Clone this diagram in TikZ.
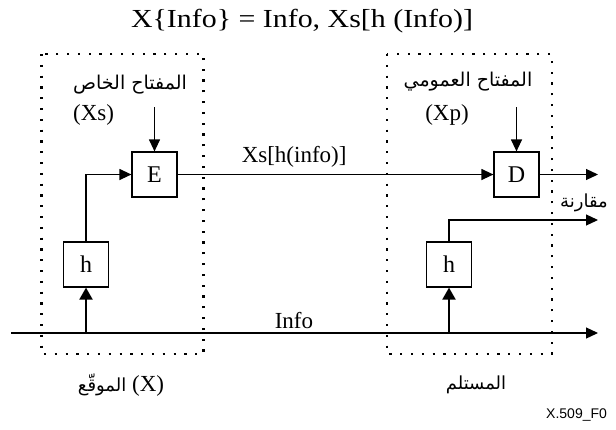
\documentclass[tikz,border=0pt]{standalone}
\usepackage{fontspec}
\setmainfont{Liberation Serif}
\newfontfamily\arabicfont[Script=Arabic]{DejaVu Sans}
\newfontfamily\figsans{Liberation Sans}
\TeXXeTstate=1
\usetikzlibrary{arrows.meta}
\tikzset{
  blk/.style={draw, line width=1.2pt, minimum width=45pt, minimum height=45pt, inner sep=0pt, font=\fontsize{24}{28}\selectfont},
  flow/.style={line width=1.2pt, -{Triangle[length=12pt,width=11pt]}},
  feed/.style={line width=2pt, -{Triangle[length=12pt,width=13pt]}},
  zone/.style={line width=2.2pt, dash pattern=on 2.2pt off 8.6pt},
  lbl/.style={inner sep=0pt, font=\fontsize{23}{26}\selectfont},
  arlbl/.style={inner sep=0pt, font=\arabicfont\fontsize{19}{22}\selectfont},
  arsm/.style={inner sep=0pt, font=\arabicfont\fontsize{18}{21}\selectfont},
}
\begin{document}
\begin{tikzpicture}[x=1pt, y=-1pt]
\useasboundingbox (0,0) rectangle (616,429);

% dotted zones: signer and receiver
\draw[zone] (41.5,54) rectangle (203.5,354);
\draw[zone] (387,54) rectangle (552,354);

% title
\node[inner sep=0pt, font=\fontsize{26}{30}\selectfont] (title) at (302,21) {\scalebox{1.15}[1]{X\{Info\} = Info, Xs[h (Info)]}};

% blocks
\node[blk] (E) at (154.5,174.5) {E};
\node[blk] (D) at (516.5,174.5) {D};
\node[blk] (hL) at (86,264.5) {h};
\node[blk] (hR) at (449,264.5) {h};

% key labels
\node[arlbl] (kS) at (130,85) {\beginR المفتاح الخاص\endR};
\node[lbl, anchor=west] (kSx) at (73,115) {(Xs)};
\node[arlbl] (kP) at (468,82) {\beginR المفتاح العمومي\endR};
\node[lbl] (kPx) at (447,115) {(Xp)};

\coordinate (kSa) at (154.5,107);
\coordinate (kPa) at (516.5,107);
\draw[flow] (kSa) -- (E.north);
\draw[flow] (kPa) -- (D.north);

% signed hash path
\draw[flow] (E.east) -- node[lbl, pos=0.369, above=7pt] (sig) {Xs[h(info)]} (D.west);
\coordinate (Dout) at (598,174.5);
\draw[flow] (D.east) -- (Dout);
\draw[flow] (hL.north) |- (E.west);

% information line
\coordinate (infoA) at (11,333);
\coordinate (infoB) at (598,333);
\draw[flow] (infoA) -- node[lbl, pos=0.482, above=4pt] (info) {Info} (infoB);
\coordinate (tapL) at (86,333);
\coordinate (tapR) at (449,333);
\draw[feed] (tapL) -- (hL.south);
\draw[feed] (tapR) -- (hR.south);

% comparison output
\coordinate (cmp) at (598,220);
\draw[flow] (hR.north) |- (cmp);
\node[arsm] (cmpl) at (584,203) {\beginR مقارنة\endR};

% zone captions
\node[inner sep=0pt] (sgn) at (121,385) {{\arabicfont\fontsize{18}{21}\selectfont\beginR الموقّع\endR}\fontsize{23}{26}\selectfont{} (X)};
\node[arsm] (rcv) at (476,385) {\beginR المستلم\endR};

\node[inner sep=0pt, anchor=west, font=\figsans\fontsize{14}{16}\selectfont] (ref) at (546,415) {X.509\_F0};
\end{tikzpicture}
\end{document}
